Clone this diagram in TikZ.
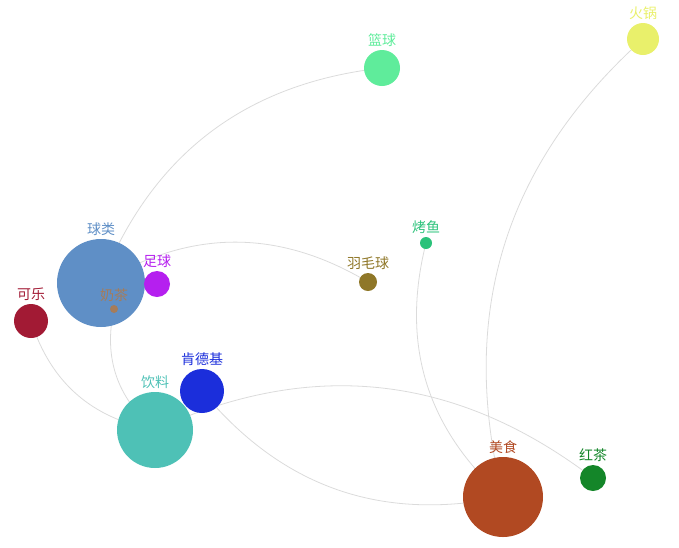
\documentclass[tikz,border=0pt]{standalone}
\usepackage{fontspec}
\newfontfamily\cjk{Noto Sans CJK SC}
\usepackage{tikz}
\usetikzlibrary{backgrounds}

\definecolor{cLanqiu}{HTML}{5FEC9B}
\definecolor{cHuoguo}{HTML}{E9F06B}
\definecolor{cQiulei}{HTML}{5F8FC6}
\definecolor{cZuqiu}{HTML}{B51FEF}
\definecolor{cNaicha}{HTML}{A57C5A}
\definecolor{cKele}{HTML}{A21A34}
\definecolor{cYumaoqiu}{HTML}{8F7728}
\definecolor{cKaoyu}{HTML}{2BC27A}
\definecolor{cKfc}{HTML}{1B2EDB}
\definecolor{cYinliao}{HTML}{4EC1B6}
\definecolor{cMeishi}{HTML}{B14922}
\definecolor{cHongcha}{HTML}{148629}

\tikzset{
  ball/.style={circle,inner sep=0pt,fill=#1},
  lab/.style={text=#1,font=\cjk\fontsize{14}{16}\selectfont,label distance=0pt},
  link/.style={draw=black!14,line width=0.8pt}
}

\begin{document}
\begin{tikzpicture}[x=1pt,y=-1pt]
			\useasboundingbox (0,0) rectangle (679,547);
			\node[ball=cLanqiu,minimum size=36pt,label={[lab=cLanqiu]above:篮球}](lanqiu) at (382,68) {};
			\node[ball=cHuoguo,minimum size=32pt,label={[lab=cHuoguo]above:火锅}](huoguo) at (643,39) {};
			\node[ball=cQiulei,minimum size=88pt,label={[lab=cQiulei]above:球类}](qiulei) at (101,283) {};
			\node[ball=cZuqiu,minimum size=26pt,label={[lab=cZuqiu]above:足球}](zuqiu) at (157,284) {};
			\node[ball=cNaicha,minimum size=8pt,label={[lab=cNaicha]above:奶茶}](naicha) at (114,309) {};
			\node[ball=cKele,minimum size=34pt,label={[lab=cKele]above:可乐}](kele) at (31,321) {};
			\node[ball=cYumaoqiu,minimum size=18pt,label={[lab=cYumaoqiu]above:羽毛球}](yumaoqiu) at (368,282) {};
			\node[ball=cKaoyu,minimum size=12pt,label={[lab=cKaoyu]above:烤鱼}](kaoyu) at (426,243) {};
			\node[ball=cKfc,minimum size=44pt,label={[lab=cKfc]above:肯德基}](kfc) at (202,391) {};
			\node[ball=cYinliao,minimum size=76pt,label={[lab=cYinliao]above:饮料}](yinliao) at (155,430) {};
			\node[ball=cMeishi,minimum size=80pt,label={[lab=cMeishi]above:美食}](meishi) at (503,497) {};
			\node[ball=cHongcha,minimum size=26pt,label={[lab=cHongcha]above:红茶}](hongcha) at (593,478) {};
			% links run centre to centre, under the balls
			\begin{scope}[on background layer]
			\draw[link] (qiulei.center) to[bend left=31] (lanqiu.center);
			\draw[link] (qiulei.center) to[bend left=31] (yumaoqiu.center);
			\draw[link] (naicha.center) to[bend right=31] (yinliao.center);
			\draw[link] (kele.center) to[bend right=31] (yinliao.center);
			\draw[link] (yinliao.center) to[bend left=31] (hongcha.center);
			\draw[link] (kfc.center) to[bend right=31] (meishi.center);
			\draw[link] (kaoyu.center) to[bend right=31] (meishi.center);
			\draw[link] (huoguo.center) to[bend right=31] (meishi.center);
			\end{scope}
		\end{tikzpicture}
\end{document}
